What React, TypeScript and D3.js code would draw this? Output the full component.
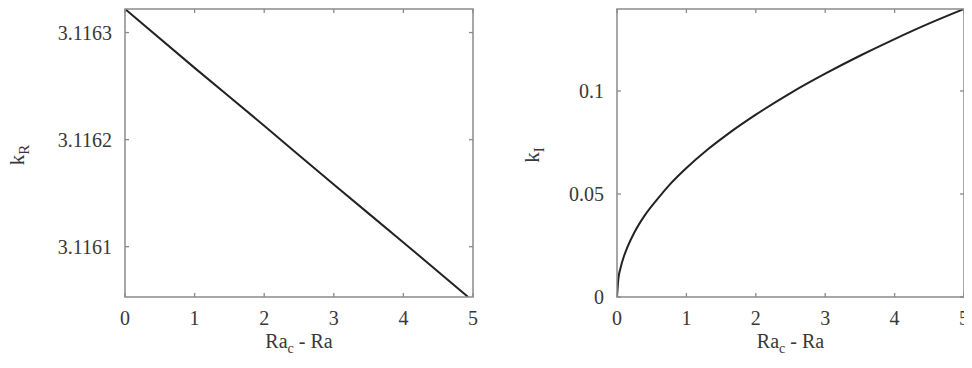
import { useEffect, useRef } from "react";
import * as d3 from "d3";

// x values (Ra_c - Ra)
const xLeft = [0, 1, 2, 3, 4, 4.93];
const kR = [3.116322, 3.116267, 3.116213, 3.116158, 3.116104, 3.116053];

const xRight = [0, 0.02, 0.05, 0.1, 0.15, 0.25, 0.4, 0.57, 0.75, 1, 1.31, 1.6, 2, 2.5, 3, 3.5, 4, 4.5, 5];
const kI = [0, 0.0089, 0.014, 0.0198, 0.0242, 0.0313, 0.0396, 0.047, 0.0542, 0.0626, 0.0717, 0.0792, 0.0885, 0.099, 0.1084, 0.1171, 0.1252, 0.1328, 0.1398];

const xTicks = [0, 1, 2, 3, 4, 5];
const kRTicks = [3.1161, 3.1162, 3.1163];
const kITicks = [0, 0.05, 0.1];

const width = 972;
const height = 368;

export default function App() {
  const ref = useRef(null);

  useEffect(() => {
    const el = ref.current;
    el.innerHTML = ""; // clear before re-render

    const svg = d3.select(el)
      .append("svg")
      .attr("width", width)
      .attr("height", height)
      .style("display", "block")
      .style("font-family", "'Liberation Serif', 'Times New Roman', serif");

    const panels = [
      {
        left: 125, right: 473, xs: xLeft, ys: kR,
        yDomain: [3.116053, 3.116322], yTicks: kRTicks, fmt: d3.format(".4f"),
        label: "R", labelX: 20,
      },
      {
        left: 617, right: 964, xs: xRight, ys: kI,
        yDomain: [0, 0.1398], yTicks: kITicks, fmt: (d) => (d === 0 ? "0" : String(d)),
        label: "I", labelX: 535,
      },
    ];
    const top = 9;
    const bottom = 297;
    const axisColor = "#8a8a8a";
    const textColor = "#383838";

    panels.forEach((p) => {
      const x = d3.scaleLinear().domain([0, 5]).range([p.left, p.right]);
      const y = d3.scaleLinear().domain(p.yDomain).range([bottom, top]);
      const g = svg.append("g");

      const clipId = "clip" + p.label;
      g.append("clipPath").attr("id", clipId)
        .append("rect")
        .attr("x", p.left).attr("y", top)
        .attr("width", p.right - p.left).attr("height", bottom - top);

      // curve
      g.append("path")
        .datum(p.xs.map((d, i) => [d, p.ys[i]]))
        .attr("clip-path", `url(#${clipId})`)
        .attr("fill", "none")
        .attr("stroke", "#222")
        .attr("stroke-width", 2)
        .attr("d", d3.line().x(d => x(d[0])).y(d => y(d[1])).curve(d3.curveMonotoneX));

      // frame
      g.append("rect")
        .attr("x", p.left).attr("y", top)
        .attr("width", p.right - p.left).attr("height", bottom - top)
        .attr("fill", "none")
        .attr("stroke", axisColor)
        .attr("stroke-width", 1.5);

      // x ticks, mirrored top and bottom
      xTicks.forEach((t) => {
        g.append("line").attr("x1", x(t)).attr("x2", x(t)).attr("y1", bottom).attr("y2", bottom - 4)
          .attr("stroke", axisColor).attr("stroke-width", 1.3);
        g.append("line").attr("x1", x(t)).attr("x2", x(t)).attr("y1", top).attr("y2", top + 4)
          .attr("stroke", axisColor).attr("stroke-width", 1.3);
        g.append("text")
          .attr("x", x(t)).attr("y", 325)
          .attr("text-anchor", "middle")
          .attr("font-size", 20)
          .attr("fill", textColor)
          .text(t);
      });

      // y ticks, mirrored left and right
      p.yTicks.forEach((t) => {
        g.append("line").attr("x1", p.left).attr("x2", p.left + 4).attr("y1", y(t)).attr("y2", y(t))
          .attr("stroke", axisColor).attr("stroke-width", 1.3);
        g.append("line").attr("x1", p.right).attr("x2", p.right - 4).attr("y1", y(t)).attr("y2", y(t))
          .attr("stroke", axisColor).attr("stroke-width", 1.3);
        g.append("text")
          .attr("x", p.left - 13).attr("y", y(t) + 7)
          .attr("text-anchor", "end")
          .attr("font-size", 20)
          .attr("fill", textColor)
          .text(p.fmt(t));
      });

      // x label
      const xl = g.append("text")
        .attr("x", (p.left + p.right) / 2).attr("y", 348)
        .attr("text-anchor", "middle")
        .attr("font-size", 20)
        .attr("fill", textColor);
      xl.append("tspan").text("Ra");
      xl.append("tspan").attr("font-size", 14).attr("dy", 5).text("c");
      xl.append("tspan").attr("dy", -5).text(" - Ra");

      // y label
      const yl = g.append("text")
        .attr("transform", `translate(${p.labelX + 4},155) rotate(-90)`)
        .attr("text-anchor", "middle")
        .attr("font-size", 21)
        .attr("fill", textColor);
      yl.append("tspan").text("k");
      yl.append("tspan").attr("font-size", 15).attr("dy", 5).text(p.label);
    });
  }, []);

  return <div ref={ref} style={{ margin: -8 }} />;
}
